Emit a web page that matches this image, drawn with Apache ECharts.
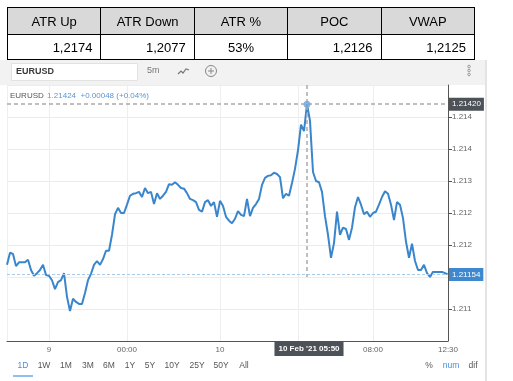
<!DOCTYPE html>
<html>
<head>
<meta charset="utf-8">
<script src="https://cdn.jsdelivr.net/npm/echarts@6/dist/echarts.min.js"></script>
<style>
html,body{margin:0;padding:0;background:#fff;width:513px;height:381px;overflow:hidden;}
#chart{position:absolute;left:0;top:0;width:513px;height:381px;}
#stats{position:absolute;left:7px;top:7px;width:468px;border-collapse:collapse;table-layout:fixed;
  font-family:"Liberation Sans",Arial,sans-serif;font-size:13px;color:#000;z-index:2;}
#stats th,#stats td{border:1px solid #000;padding:0 8px;overflow:hidden;white-space:nowrap;}
#stats th{background:#d9d9d9;height:26px;font-weight:normal;text-align:center;}
#stats td{height:24px;text-align:right;background:#fff;}
#stats td.c{text-align:center;}
</style>
</head>
<body>
<div id="chart"></div>
<table id="stats"><tr id="hrow"></tr><tr id="vrow"></tr></table>
<script>
// ---- data ----
const statHeaders = ['ATR Up', 'ATR Down', 'ATR %', 'POC', 'VWAP'];
const statValues = ['1,2174', '1,2077', '53%', '1,2126', '1,2125'];

const symbolName = 'EURUSD';
const quoteText = '1.21424  +0.00048 (+0.04%)';

const eurusd = [
  1.21169, 1.21188, 1.21186, 1.21167, 1.21173, 1.21173, 1.21173, 1.21177, 1.21161, 1.21152,
  1.21156, 1.21161, 1.21169, 1.21153, 1.21152, 1.21145, 1.21131, 1.21142, 1.21145, 1.21156,
  1.21119, 1.21097, 1.21116, 1.21111, 1.21108, 1.21108, 1.21125, 1.21145, 1.21155, 1.21169,
  1.21175, 1.21169, 1.21178, 1.21191, 1.21191, 1.21216, 1.21248, 1.21258, 1.21250, 1.21250,
  1.21263, 1.21277, 1.21280, 1.21281, 1.21283, 1.21275, 1.21289, 1.21281, 1.21283, 1.21264,
  1.21281, 1.21272, 1.21277, 1.21283, 1.21295, 1.21294, 1.21298, 1.21294, 1.21289, 1.21288,
  1.21281, 1.21272, 1.21270, 1.21267, 1.21255, 1.21252, 1.21267, 1.21270, 1.21261, 1.21267,
  1.21244, 1.21269, 1.21261, 1.21244, 1.21238, 1.21234, 1.21241, 1.21253, 1.21247, 1.21245,
  1.21272, 1.21245, 1.21258, 1.21264, 1.21272, 1.21294, 1.21305, 1.21308, 1.21309, 1.21313,
  1.21311, 1.21306, 1.21273, 1.21280, 1.21277, 1.21297, 1.21319, 1.21348, 1.21388, 1.21378,
  1.21420, 1.21394, 1.21314, 1.21300, 1.21298, 1.21283, 1.21245, 1.21216, 1.21180, 1.21203,
  1.21252, 1.21216, 1.21227, 1.21225, 1.21208, 1.21227, 1.21259, 1.21275, 1.21263, 1.21248,
  1.21252, 1.21244, 1.21250, 1.21252, 1.21263, 1.21275, 1.21284, 1.21280, 1.21263, 1.21239,
  1.21267, 1.21263, 1.21242, 1.21205, 1.21180, 1.21202, 1.21175, 1.21161, 1.21161, 1.21169,
  1.21156, 1.21150, 1.21158, 1.21158, 1.21158, 1.21158, 1.21156, 1.21154
];
const categories = eurusd.map((_, i) => String(i));

const xTickIndex = [14, 40, 71, 122, 147];
const xTickLabels = ['9', '00:00', '10', '08:00', '12:30'];
const xGridIndex = [0, 14, 40, 71, 97, 122];

const yMin = 1.2105, yMax = 1.2145, yStep = 0.0005;
const yTickValues = [1.2110, 1.2115, 1.2120, 1.2125, 1.2130, 1.2135, 1.2140];
const yTickLabels = ['1.211', '1.212', '1.212', '1.212', '1.213', '1.214', '1.214'];

const peakValue = 1.21420;
const lastValue = 1.21154;
const crossIndex = 100;
const crossBottom = 1.2115;
const crossLabel = "10 Feb '21 05:50";

const rangeLabels = ['1D', '1W', '1M', '3M', '6M', '1Y', '5Y', '10Y', '25Y', '50Y', 'All'];
const modeLabels = ['%', 'num', 'dif'];

// ---- table ----
const hrow = document.getElementById('hrow');
const vrow = document.getElementById('vrow');
statHeaders.forEach(h => { const th = document.createElement('th'); th.textContent = h; hrow.appendChild(th); });
statValues.forEach(v => { const td = document.createElement('td'); td.textContent = v; if (v.indexOf('%') >= 0) td.className = 'c'; vrow.appendChild(td); });

// ---- chart ----
const FONT = '"Liberation Sans", Arial, sans-serif';
const BLUE = '#3a86cc';
const rangeX = [23, 44, 66, 88, 109, 130, 150, 172, 197, 221, 244];
const modeX = [429, 451, 473];
const firstCat = categories[0], lastCat = categories[categories.length - 1];

const graphics = [
  { type: 'rect', shape: { x: 0, y: 60, width: 486, height: 25 }, style: { fill: '#f2f2f2' }, z: -1 },
  { type: 'line', shape: { x1: 486, y1: 60, x2: 486, y2: 381 }, style: { stroke: '#e4e4e4', lineWidth: 2 }, z: -1 },
  { type: 'rect', shape: { x: 11.5, y: 63.5, width: 126, height: 17 }, style: { fill: '#fff', stroke: '#e2e2e2' } },
  { type: 'text', x: 16, y: 72, style: { text: symbolName, font: 'bold 9px ' + FONT, fill: '#3a3a3a', verticalAlign: 'middle' } },
  { type: 'text', x: 147, y: 71, style: { text: '5m', font: '9px ' + FONT, fill: '#777', verticalAlign: 'middle' } },
  { type: 'polyline', shape: { points: [[178, 74], [181, 71], [183, 73], [186, 69], [189, 70]] }, style: { stroke: '#777', lineWidth: 1.2, fill: null } },
  { type: 'circle', shape: { cx: 211, cy: 71, r: 5.5 }, style: { stroke: '#888', fill: null, lineWidth: 1 } },
  { type: 'line', shape: { x1: 208, y1: 71, x2: 214, y2: 71 }, style: { stroke: '#888', lineWidth: 1 } },
  { type: 'line', shape: { x1: 211, y1: 68, x2: 211, y2: 74 }, style: { stroke: '#888', lineWidth: 1 } },
  { type: 'circle', shape: { cx: 469, cy: 66.5, r: 1.3 }, style: { stroke: '#999', fill: null } },
  { type: 'circle', shape: { cx: 469, cy: 70.5, r: 1.3 }, style: { stroke: '#999', fill: null } },
  { type: 'circle', shape: { cx: 469, cy: 74.5, r: 1.3 }, style: { stroke: '#999', fill: null } },
  { type: 'text', x: 10, y: 96, z: 10, style: {
      text: '{a|' + symbolName + '} {b|' + quoteText + '}', verticalAlign: 'middle',
      rich: { a: { fontSize: 8, fontFamily: FONT, fill: '#555' }, b: { fontSize: 8, fontFamily: FONT, fill: '#5b95d3' } } } },
  { type: 'line', shape: { x1: 13, y1: 376, x2: 33, y2: 376 }, style: { stroke: '#6aaae6', lineWidth: 1.5 } }
];
rangeLabels.forEach((t, i) => graphics.push({ type: 'text', x: rangeX[i], y: 366, style: {
  text: t, font: '8.5px ' + FONT, fill: i === 0 ? '#4a90d9' : '#555', align: 'center', verticalAlign: 'middle' } }));
modeLabels.forEach((t, i) => graphics.push({ type: 'text', x: modeX[i], y: 366, style: {
  text: t, font: '8.5px ' + FONT, fill: t === 'num' ? '#4a90d9' : '#555', align: 'center', verticalAlign: 'middle' } }));

const chart = echarts.init(document.getElementById('chart'), null, { renderer: 'canvas' });
const boxLabel = (val, bg) => ({
  show: true, position: 'end', distance: 1, formatter: val.toFixed(5),
  backgroundColor: bg, color: '#fff', padding: [3, 3, 2, 3], fontSize: 8, fontFamily: FONT
});
chart.setOption({
  animation: false,
  backgroundColor: 'transparent',
  grid: { left: 7, right: 65, top: 85, bottom: 40 },
  xAxis: {
    type: 'category', data: categories, boundaryGap: false,
    axisLine: { show: true, lineStyle: { color: '#555', width: 1 } },
    axisTick: { show: false },
    axisLabel: {
      interval: i => xTickIndex.indexOf(i) >= 0,
      formatter: (v, i) => xTickLabels[xTickIndex.indexOf(i)] || '',
      color: '#666', fontSize: 8, fontFamily: FONT, margin: 5
    },
    splitLine: { show: true, interval: i => xGridIndex.indexOf(i) >= 0, lineStyle: { color: '#eceff2', width: 1 } }
  },
  yAxis: {
    type: 'value', position: 'right', min: yMin, max: yMax, interval: yStep, scale: true,
    axisLine: { show: true, lineStyle: { color: '#555', width: 1 } },
    axisTick: { show: true, length: 4, lineStyle: { color: '#555' } },
    axisLabel: {
      showMinLabel: false, showMaxLabel: false, color: '#666', fontSize: 8, fontFamily: FONT, margin: 4,
      formatter: v => { const k = yTickValues.findIndex(t => Math.abs(t - v) < 1e-7); return k >= 0 ? yTickLabels[k] : ''; }
    },
    splitLine: { show: true, lineStyle: { color: '#ececec', width: 1 } }
  },
  series: [{
    type: 'line', data: eurusd, symbol: 'none', smooth: false, z: 3,
    lineStyle: { color: BLUE, width: 2 },
    markLine: {
      silent: true, symbol: ['none', 'none'], animation: false,
      data: [
        [
          { coord: [firstCat, peakValue], lineStyle: { color: '#ababab', type: [4, 3], width: 1.5 }, label: boxLabel(peakValue, '#4d5258') },
          { coord: [lastCat, peakValue] }
        ],
        [
          { coord: [firstCat, lastValue], lineStyle: { color: '#a9cbea', type: [3, 2], width: 1 }, label: boxLabel(lastValue, '#3d88cf') },
          { coord: [lastCat, lastValue] }
        ],
        [
          { coord: [String(crossIndex), yMax], lineStyle: { color: '#ababab', type: [4, 3], width: 1.5 }, label: { show: false } },
          { coord: [String(crossIndex), crossBottom] }
        ]
      ]
    },
    markPoint: {
      silent: true, symbol: 'circle', symbolSize: 7,
      itemStyle: { color: 'rgba(120,168,218,0.85)' }, label: { show: false },
      data: [{ coord: [String(crossIndex), peakValue] }]
    }
  }],
  graphic: graphics
});

// crosshair time label on the x axis
const cx = chart.convertToPixel({ xAxisIndex: 0 }, String(crossIndex));
chart.setOption({ graphic: graphics.concat([{
  type: 'text', x: cx + 2, y: 348.5, z: 20,
  style: { text: crossLabel, font: 'bold 8px ' + FONT, fill: '#fff', align: 'center', verticalAlign: 'middle',
           backgroundColor: '#4d5258', padding: [4, 4, 3, 4] }
}]) }, { replaceMerge: ['graphic'] });
</script>
</body>
</html>
